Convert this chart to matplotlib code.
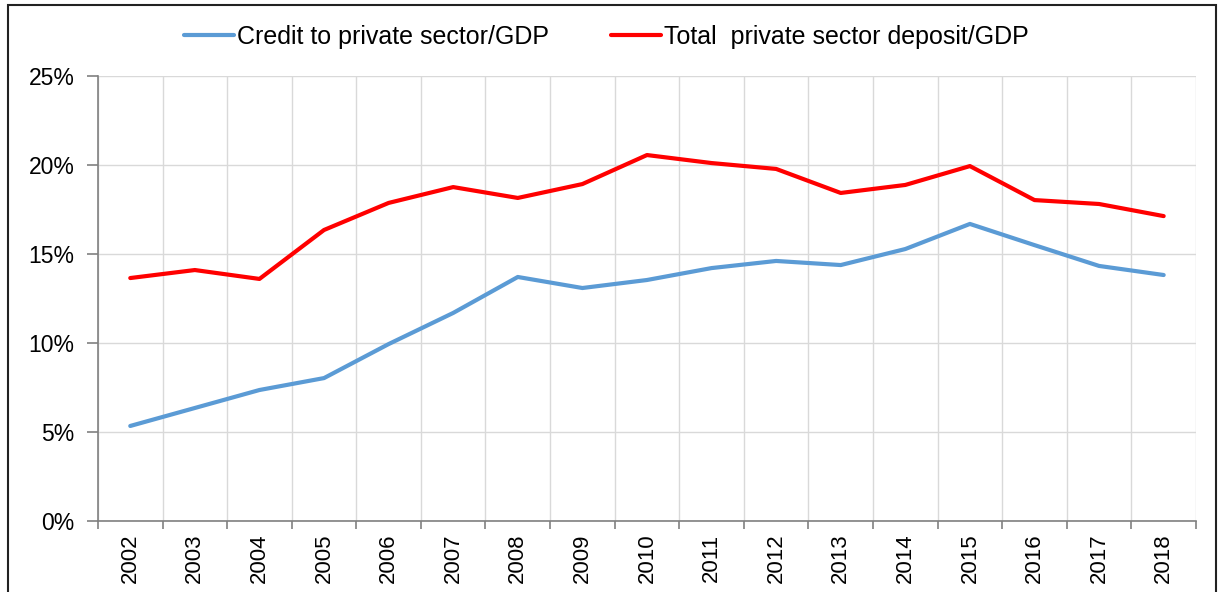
import numpy as np
import matplotlib.pyplot as plt
from matplotlib.patches import Rectangle
from matplotlib.ticker import FuncFormatter, FixedLocator

plt.rcParams['font.family'] = ['Liberation Sans', 'DejaVu Sans']

years = [str(y) for y in range(2002, 2019)]
credit = [5.34, 6.35, 7.36, 8.03, 9.94, 11.69, 13.71, 13.09, 13.54, 14.21,
          14.61, 14.38, 15.28, 16.69, 15.50, 14.33, 13.82]
deposit = [13.65, 14.10, 13.60, 16.35, 17.87, 18.76, 18.15, 18.93, 20.56, 20.11,
           19.78, 18.43, 18.88, 19.94, 18.03, 17.81, 17.13]

fig = plt.figure(figsize=[12.2, 5.92], dpi=100)
ax = fig.add_axes([0.0803, 0.1199, 0.9, 0.7517])

x = np.arange(len(years))
ax.plot(x, credit, color='#5b9bd5', lw=3, label='Credit to private sector/GDP', solid_capstyle='round')
ax.plot(x, deposit, color='#ff0000', lw=3, label='Total  private sector deposit/GDP', solid_capstyle='round')

ax.set_xlim(-0.5, len(years) - 0.5)
ax.set_ylim(0, 25)
ax.set_yticks(np.arange(0, 26, 5))
ax.yaxis.set_major_formatter(FuncFormatter(lambda v, p: '%d%%' % v))
ax.set_xticks(x)
ax.set_xticklabels(years, rotation=90)
ax.xaxis.set_minor_locator(FixedLocator(np.arange(-0.5, len(years), 1)))
ax.tick_params(axis='x', which='major', length=0, pad=9, labelsize=16)
ax.tick_params(axis='x', which='minor', length=6, color='#808080', width=1.2)
ax.tick_params(axis='y', length=8, color='#808080', width=1.2, labelsize=16.5, pad=9)

ax.grid(axis='y', which='major', color='#d9d9d9', lw=1)
ax.grid(axis='x', which='minor', color='#d9d9d9', lw=1)
ax.set_axisbelow(True)
for s in ['top', 'right']:
    ax.spines[s].set_visible(False)
for s in ['left', 'bottom']:
    ax.spines[s].set_color('#808080')
    ax.spines[s].set_linewidth(1.2)

ax.legend(loc='center', bbox_to_anchor=(0.463, 1.088), ncol=2, frameon=False,
          fontsize=18, handlelength=2.0, handletextpad=0.1, columnspacing=2.5)

fig.patches.append(Rectangle((8 / 1220, -0.05), 1208 / 1220, 1 - 5 / 592 + 0.05,
                             transform=fig.transFigure, fill=False, ec='#222222', lw=1.5))

fig.savefig('out.png', dpi=100)
